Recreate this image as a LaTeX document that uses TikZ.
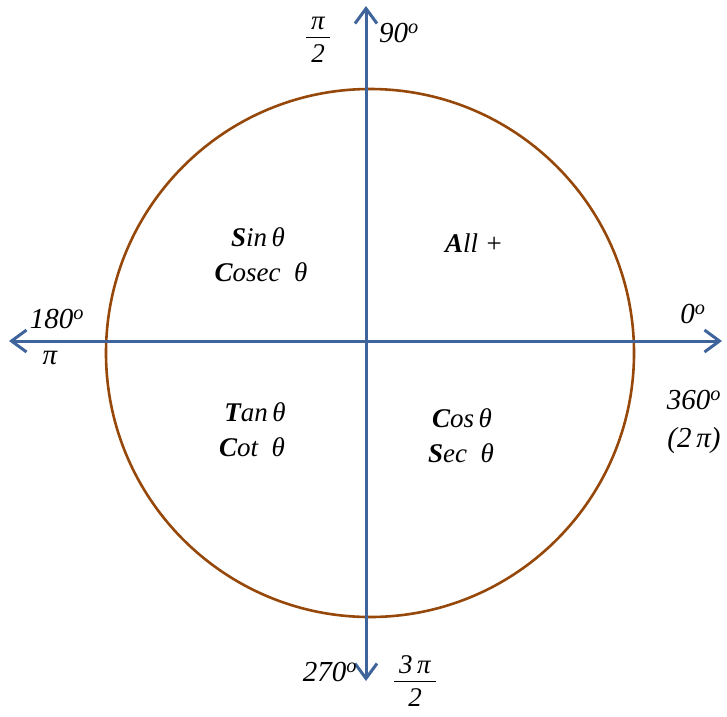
\documentclass[tikz,border=0pt]{standalone}
\usepackage{fontspec}
\setmainfont{Liberation Serif}
\usetikzlibrary{arrows.meta}
\definecolor{axisblue}{RGB}{62,100,155}
\definecolor{circlebrown}{RGB}{150,72,10}

\tikzset{
  axisline/.style={draw=axisblue, line width=3pt,
    {Straight Barb[length=15pt,width=22pt,line width=3pt]}-{Straight Barb[length=15pt,width=22pt,line width=3pt]}},
  degree/.style={font=\fontsize{29}{32}\selectfont\itshape, inner sep=0pt},
  fraclbl/.style={font=\fontsize{27}{30}\selectfont\itshape, inner sep=0pt},
  quadlbl/.style={font=\fontsize{27}{30}\selectfont\itshape, inner sep=0pt, anchor=base}
}
\newcommand{\angdeg}[1]{#1\textsuperscript{o}}
\newcommand{\fracbox}[2]{\begin{tabular}{@{\hspace{5pt}}c@{\hspace{5pt}}}#1\\[-1pt]\hline\rule{0pt}{25pt}#2\end{tabular}}

\begin{document}
\begin{tikzpicture}[x=1pt,y=-1pt]
\useasboundingbox (0,0) rectangle (727,716);

% unit circle
\draw[circlebrown, line width=2.6pt] (370,353) circle (264);

% axes
\coordinate (west) at (9,341);
\coordinate (east) at (722,341);
\coordinate (north) at (366,6);
\coordinate (south) at (366,681);
\draw[axisline] (west) -- (east);
\draw[axisline] (south) -- (north);

% angle labels
\node[degree] (deg90) at (399,33) {\angdeg{90}};
\node[degree] (deg180) at (57,319) {\angdeg{180}};
\node[degree] (deg0) at (693,314) {\angdeg{0}};
\node[degree] (deg360) at (694,400) {\angdeg{360}};
\node[degree] (deg270) at (330,672) {\angdeg{270}};
\node[degree] (pi) at (50,358) {π};
\node[degree] (twopi) at (694,441) {(2\,π)};
\node[fraclbl] (pihalf) at (318,40) {\fracbox{π}{2}};
\node[fraclbl] (threepihalf) at (415,684) {\fracbox{3\,π}{2}};

% quadrant labels
\node[quadlbl] (sin) at (258,246) {\textbf{S}in\,θ};
\node[quadlbl] (cosec) at (261,281) {\textbf{C}osec\ \ θ};
\node[quadlbl] (all) at (474,252) {\textbf{A}ll +};
\node[quadlbl] (tan) at (255,421) {\textbf{T}an\,θ};
\node[quadlbl] (cot) at (252,456) {\textbf{C}ot\ \ θ};
\node[quadlbl] (cos) at (462,427) {\textbf{C}os\,θ};
\node[quadlbl] (sec) at (461,462) {\textbf{S}ec\ \ θ};
\end{tikzpicture}
\end{document}
